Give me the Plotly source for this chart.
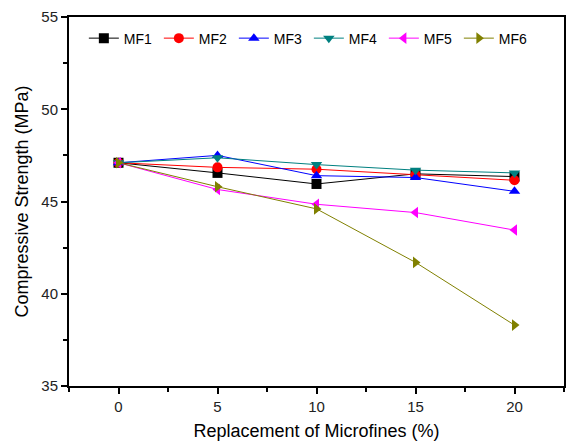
import plotly.graph_objects as go

x_vals = [0, 5, 10, 15, 20]
series_names = ["MF1", "MF2", "MF3", "MF4", "MF5", "MF6"]
mf1 = [47.1, 46.55, 45.95, 46.5, 46.35]
mf2 = [47.1, 46.85, 46.75, 46.45, 46.15]
mf3 = [47.1, 47.5, 46.4, 46.3, 45.55]
mf4 = [47.1, 47.37, 47.0, 46.7, 46.55]
mf5 = [47.1, 45.65, 44.85, 44.4, 43.45]
mf6 = [47.1, 45.8, 44.6, 41.7, 38.3]
series_values = [mf1, mf2, mf3, mf4, mf5, mf6]

colors = ["#000000", "#FF0000", "#0000FF", "#008080", "#FF00FF", "#808000"]
symbols = ["square", "circle", "triangle-up", "triangle-down", "triangle-left", "triangle-right"]

fig = go.Figure()
for name, vals, c, s in zip(series_names, series_values, colors, symbols):
    fig.add_trace(go.Scatter(
        x=x_vals, y=vals, name=name, mode="lines+markers",
        line=dict(color=c, width=1),
        marker=dict(symbol=s, color=c, size=10),
    ))

axis_common = dict(
    showgrid=False, zeroline=False, showline=True, linecolor="black", linewidth=2,
    mirror=True, ticks="outside", ticklen=6, tickwidth=1.5, tickcolor="black",
    tickfont=dict(family="Liberation Sans, Arial", size=15, color="#222222"),
)

fig.update_xaxes(
    range=[-2.5, 22.5], tick0=0, dtick=5,
    minor=dict(ticks="outside", dtick=2.5, tick0=0, ticklen=4, tickwidth=1.5, tickcolor="black"),
    title=dict(text="Replacement of Microfines (%)", font=dict(family="Liberation Sans, Arial", size=18, color="black"), standoff=10),
    **axis_common,
)
fig.update_yaxes(
    range=[35, 55], tick0=35, dtick=5,
    minor=dict(ticks="outside", dtick=2.5, tick0=35, ticklen=4, tickwidth=1.5, tickcolor="black"),
    title=dict(text="Compressive Strength (MPa)", font=dict(family="Liberation Sans, Arial", size=18, color="black"), standoff=8),
    **axis_common,
)

fig.update_layout(
    width=571, height=448,
    margin=dict(l=69, r=5, t=17, b=62),
    paper_bgcolor="white", plot_bgcolor="white",
    showlegend=True,
    legend=dict(
        orientation="h", x=0.03, y=0.985, xanchor="left", yanchor="top",
        font=dict(family="Liberation Sans, Arial", size=14, color="black"),
        bgcolor="rgba(0,0,0,0)", entrywidth=30, entrywidthmode="pixels",
    ),
)

fig.write_html("out.html")
